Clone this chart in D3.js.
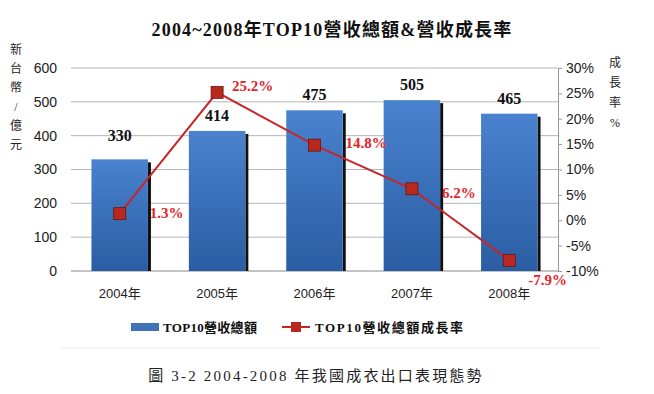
<!DOCTYPE html>
<html>
<head>
<meta charset="utf-8">
<script src="https://cdn.jsdelivr.net/npm/d3@7"></script>
<style>
  body { margin: 0; background: #fff; }
  svg { display: block; font-family: "Liberation Serif", "Noto Sans CJK TC", serif; }
</style>
</head>
<body>
<div class="chart"></div>
<script>
// data
const years = ["2004年", "2005年", "2006年", "2007年", "2008年"];
const revenue = [330, 414, 475, 505, 465];
const growth = [1.3, 25.2, 14.8, 6.2, -7.9];
const leftTicks = [0, 100, 200, 300, 400, 500, 600];
const rightTicks = [-10, -5, 0, 5, 10, 15, 20, 25, 30];

const width = 654, height = 394;
const margin = { left: 71, right: 96, top: 68, bottom: 123 };

const svg = d3.select(".chart")
  .append("svg")
  .attr("width", width)
  .attr("height", height);

const defs = svg.append("defs");
const grad = defs.append("linearGradient").attr("id", "barGrad")
  .attr("x1", "0").attr("x2", "0").attr("y1", "0").attr("y2", "1");
grad.append("stop").attr("offset", "0%").attr("stop-color", "#4a82cf");
grad.append("stop").attr("offset", "100%").attr("stop-color", "#2a5da3");

const x = d3.scaleBand()
  .domain(years)
  .range([margin.left, width - margin.right])
  .paddingInner(0.42)
  .paddingOuter(0.21);

const yL = d3.scaleLinear().domain([0, 600]).range([height - margin.bottom, margin.top]);
const yR = d3.scaleLinear().domain([-10, 30]).range([height - margin.bottom, margin.top]);

// gridlines
svg.append("g")
  .selectAll("line")
  .data(leftTicks)
  .join("line")
  .attr("x1", margin.left)
  .attr("x2", width - margin.right)
  .attr("y1", d => yL(d))
  .attr("y2", d => yL(d))
  .attr("stroke", d => d === 0 ? "#888" : "#b5b5b5")
  .attr("stroke-width", 1);

// left axis
const leftAxis = svg.append("g")
  .attr("transform", `translate(${margin.left},0)`)
  .call(d3.axisLeft(yL).tickValues(leftTicks).tickSize(0).tickPadding(14));
leftAxis.select(".domain").remove();
leftAxis.selectAll("text").attr("font-size", 14).attr("fill", "#222")
  .attr("font-family", "Liberation Sans, sans-serif");

// right axis
const rightAxis = svg.append("g")
  .attr("transform", `translate(${width - margin.right},0)`)
  .call(d3.axisRight(yR).tickValues(rightTicks).tickSize(4).tickPadding(4)
    .tickFormat(d => d + "%"));
rightAxis.select(".domain").attr("stroke", "#999");
rightAxis.selectAll(".tick line").attr("stroke", "#999");
rightAxis.selectAll("text").attr("font-size", 14).attr("fill", "#222");

// bottom axis
const bottomAxis = svg.append("g")
  .attr("transform", `translate(0,${height - margin.bottom})`)
  .call(d3.axisBottom(x).tickSize(0).tickPadding(18));
bottomAxis.select(".domain").remove();
bottomAxis.selectAll("text").attr("font-size", 13).attr("fill", "#222")
  .attr("font-family", "Liberation Sans, Noto Sans CJK TC, sans-serif");

// bars with dark shadow on right
svg.append("g")
  .selectAll("rect")
  .data(revenue)
  .join("rect")
  .attr("x", (d, i) => x(years[i]) + x.bandwidth())
  .attr("y", d => yL(d) + 3)
  .attr("width", 3)
  .attr("height", d => yL(0) - yL(d) - 3)
  .attr("fill", "#111");

svg.append("g")
  .selectAll("rect")
  .data(revenue)
  .join("rect")
  .attr("x", (d, i) => x(years[i]))
  .attr("y", d => yL(d))
  .attr("width", x.bandwidth())
  .attr("height", d => yL(0) - yL(d))
  .attr("fill", "url(#barGrad)");

// bar value labels
svg.append("g")
  .selectAll("text")
  .data(revenue)
  .join("text")
  .attr("x", (d, i) => x(years[i]) + x.bandwidth() / 2)
  .attr("y", (d, i) => yL(d) - (i === 0 ? 18 : 10))
  .attr("text-anchor", "middle")
  .attr("font-size", 16)
  .attr("font-weight", "bold")
  .attr("fill", "#111")
  .text(d => d);

// growth line
const cx = i => x(years[i]) + x.bandwidth() / 2;
const line = d3.line()
  .x((d, i) => cx(i))
  .y(d => yR(d));

svg.append("path")
  .datum(growth)
  .attr("d", line)
  .attr("fill", "none")
  .attr("stroke", "#c8242a")
  .attr("stroke-width", 2);

svg.append("g")
  .selectAll("rect")
  .data(growth)
  .join("rect")
  .attr("x", (d, i) => cx(i) - 6)
  .attr("y", d => yR(d) - 6)
  .attr("width", 12)
  .attr("height", 12)
  .attr("fill", "#b8281e")
  .attr("stroke", "#6b1510")
  .attr("stroke-width", 0.8);

// growth labels
const labelDx = [30, 15, 31, 30, 19];
const labelDy = [4, -1, 3, 9, 25];
svg.append("g")
  .selectAll("text")
  .data(growth)
  .join("text")
  .attr("x", (d, i) => cx(i) + labelDx[i])
  .attr("y", (d, i) => yR(d) + labelDy[i])
  .attr("font-size", 15)
  .attr("font-weight", "bold")
  .attr("fill", "#e0242a")
  .text(d => d.toFixed(1) + "%");

// title
svg.append("text")
  .attr("x", 332)
  .attr("y", 36)
  .attr("text-anchor", "middle")
  .attr("font-size", 18)
  .attr("font-weight", "bold")
  .attr("letter-spacing", 1.2)
  .attr("fill", "#111")
  .text("2004~2008年TOP10營收總額&營收成長率");

// vertical axis titles
const leftTitle = "新台幣/億元".split("");
svg.append("g")
  .selectAll("text")
  .data(leftTitle)
  .join("text")
  .attr("x", 16)
  .attr("y", (d, i) => 54 + i * 19)
  .attr("text-anchor", "middle")
  .attr("font-size", 12)
  .attr("fill", "#222")
  .text(d => d);

const rightTitle = "成長率%".split("");
svg.append("g")
  .selectAll("text")
  .data(rightTitle)
  .join("text")
  .attr("x", 615)
  .attr("y", (d, i) => 67 + i * 20)
  .attr("text-anchor", "middle")
  .attr("font-size", 12)
  .attr("fill", "#222")
  .text(d => d);

// legend
const legend = svg.append("g").attr("transform", "translate(0,327)");
legend.append("rect")
  .attr("x", 131).attr("y", -4).attr("width", 28).attr("height", 8)
  .attr("fill", "#3f73b9");
legend.append("text")
  .attr("x", 163).attr("y", 5)
  .attr("font-size", 13).attr("font-weight", "bold").attr("fill", "#111")
  .attr("letter-spacing", 0.3)
  .text("TOP10營收總額");
legend.append("line")
  .attr("x1", 282).attr("x2", 310).attr("y1", 0).attr("y2", 0)
  .attr("stroke", "#c8242a").attr("stroke-width", 2);
legend.append("rect")
  .attr("x", 291).attr("y", -5).attr("width", 10).attr("height", 10)
  .attr("fill", "#b8281e");
legend.append("text")
  .attr("x", 315).attr("y", 5)
  .attr("font-size", 13).attr("font-weight", "bold").attr("fill", "#111")
  .attr("letter-spacing", 1.6)
  .text("TOP10營收總額成長率");

// separator line and caption
svg.append("line")
  .attr("x1", 60).attr("x2", 600).attr("y1", 348).attr("y2", 348)
  .attr("stroke", "#eee");

svg.append("text")
  .attr("x", 316)
  .attr("y", 381)
  .attr("text-anchor", "middle")
  .attr("font-size", 15)
  .attr("letter-spacing", 2.2)
  .attr("fill", "#222")
  .text("圖  3-2 2004-2008 年我國成衣出口表現態勢");
</script>
</body>
</html>
